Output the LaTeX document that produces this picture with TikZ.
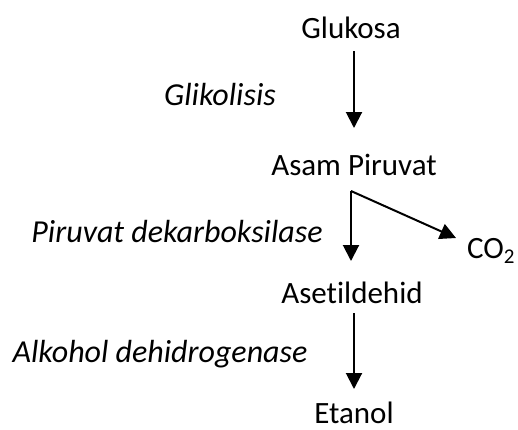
\documentclass[tikz,border=0pt]{standalone}
\usepackage{fontspec}
\setmainfont{Carlito}[Ligatures={NoCommon,NoRare,NoContextual}]
\usetikzlibrary{arrows.meta}
\begin{document}
\begin{tikzpicture}[x=1pt,y=-1pt,
  lbl/.style={inner sep=0pt,anchor=base,font=\fontsize{31}{36}\selectfont},
  enz/.style={inner sep=0pt,anchor=base,font=\fontsize{32}{36}\selectfont\itshape},
  arr/.style={line width=2pt,-{Triangle[length=16pt,width=16pt]}}]
\useasboundingbox (0,0) rectangle (518,429);
\node[lbl] (glu) at (351,38) {Glukosa};
\node[enz] (gli) at (220,105) {Glikolisis};
\node[lbl] (asp) at (354,175) {Asam Piruvat};
\node[enz] (pdk) at (177,242) {Piruvat dekarboksilase};
\node[lbl,anchor=base west] (co2) at (467,258) {CO\raisebox{-0.17em}{\fontsize{21}{24}\selectfont 2}};
\node[lbl] (ase) at (352,303) {Asetildehid};
\node[enz] (adh) at (160,362) {Alkohol dehidrogenase};
\node[lbl] (eta) at (354,423) {Etanol};
\coordinate (br) at (351,191);
\coordinate (c2) at (456,238);
\draw[arr] (glu.south -| 354,0) ++(0,13) -- (354,128);
\draw[arr] (br) -- (351,261);
\draw[arr] (br) -- (c2);
\draw[arr] (ase.south -| 354,0) ++(0,10) -- (354,389);
\end{tikzpicture}
\end{document}
